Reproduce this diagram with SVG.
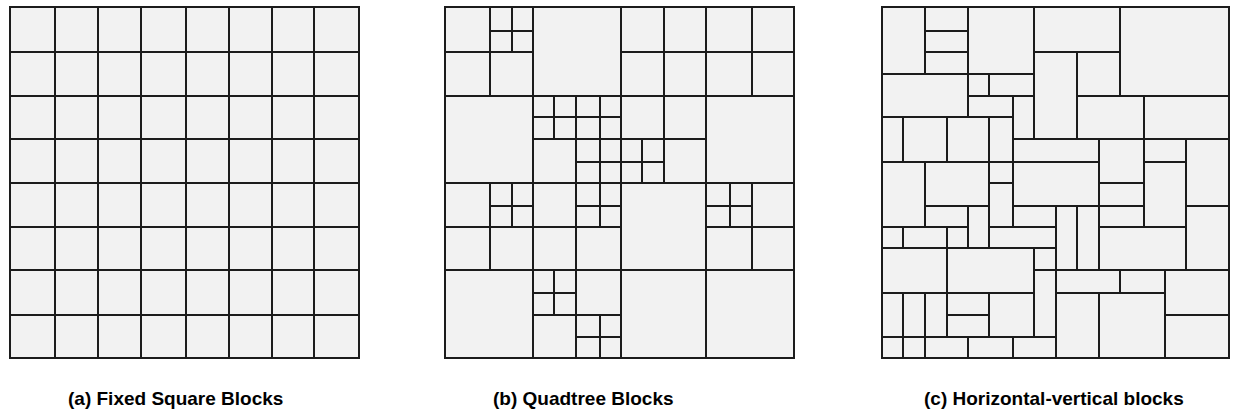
<svg xmlns="http://www.w3.org/2000/svg" width="1238" height="415" viewBox="0 0 1238 415">
<style>
rect{fill:#f2f2f2;stroke:#1c1c1c;stroke-width:2}
path{fill:none;stroke:#1c1c1c;stroke-width:2}
text{font-family:"Liberation Sans",Arial,sans-serif;font-weight:bold;font-size:19px;fill:#000}
</style>
<rect x="0" y="0" width="1238" height="415" style="fill:#fff;stroke:none"/>
<g id="panel-a">
<rect x="10" y="7" width="349" height="351"/>
<path d="M55 7V358M98 7V358M141 7V358M186 7V358M229 7V358M272 7V358M314 7V358M10 52H359M10 96H359M10 139H359M10 183H359M10 227H359M10 270H359M10 315H359"/>
</g>
<g id="panel-b">
<rect x="445" y="7" width="45" height="45"/>
<rect x="490" y="7" width="43" height="45"/>
<rect x="445" y="52" width="45" height="44"/>
<rect x="490" y="52" width="43" height="44"/>
<rect x="533" y="7" width="88" height="89"/>
<rect x="621" y="7" width="43" height="45"/>
<rect x="664" y="7" width="42" height="45"/>
<rect x="706" y="7" width="46" height="45"/>
<rect x="752" y="7" width="42" height="45"/>
<rect x="621" y="52" width="43" height="44"/>
<rect x="664" y="52" width="42" height="44"/>
<rect x="706" y="52" width="46" height="44"/>
<rect x="752" y="52" width="42" height="44"/>
<rect x="445" y="96" width="88" height="87"/>
<rect x="533" y="96" width="43" height="43"/>
<rect x="576" y="96" width="45" height="43"/>
<rect x="533" y="139" width="43" height="44"/>
<rect x="576" y="139" width="45" height="44"/>
<rect x="621" y="96" width="43" height="43"/>
<rect x="664" y="96" width="42" height="43"/>
<rect x="621" y="139" width="43" height="44"/>
<rect x="664" y="139" width="42" height="44"/>
<rect x="706" y="96" width="88" height="87"/>
<rect x="445" y="183" width="45" height="44"/>
<rect x="490" y="183" width="43" height="44"/>
<rect x="445" y="227" width="45" height="43"/>
<rect x="490" y="227" width="43" height="43"/>
<rect x="533" y="183" width="43" height="44"/>
<rect x="576" y="183" width="45" height="44"/>
<rect x="533" y="227" width="43" height="43"/>
<rect x="576" y="227" width="45" height="43"/>
<rect x="621" y="183" width="85" height="87"/>
<rect x="706" y="183" width="46" height="44"/>
<rect x="752" y="183" width="42" height="44"/>
<rect x="706" y="227" width="46" height="43"/>
<rect x="752" y="227" width="42" height="43"/>
<rect x="445" y="270" width="88" height="88"/>
<rect x="533" y="270" width="43" height="45"/>
<rect x="576" y="270" width="45" height="45"/>
<rect x="533" y="315" width="43" height="43"/>
<rect x="576" y="315" width="45" height="43"/>
<rect x="621" y="270" width="85" height="88"/>
<rect x="706" y="270" width="88" height="88"/>
<path d="M512 7V52M490 31H533M554 96V139M533 117H576M600 96V139M576 117H621M600 139V183M576 162H621M642 139V183M621 162H664M512 183V227M490 206H533M600 183V227M576 206H621M730 183V227M706 206H752M554 270V315M533 293H576M600 315V358M576 337H621"/>
</g>
<g id="panel-c">
<rect x="882" y="7" width="43" height="67"/>
<rect x="925" y="7" width="43" height="24"/>
<rect x="925" y="31" width="43" height="21"/>
<rect x="925" y="52" width="43" height="22"/>
<rect x="968" y="7" width="66" height="67"/>
<rect x="1034" y="7" width="86" height="45"/>
<rect x="1120" y="7" width="109" height="89"/>
<rect x="1034" y="52" width="43" height="87"/>
<rect x="1077" y="52" width="43" height="44"/>
<rect x="882" y="74" width="86" height="43"/>
<rect x="968" y="74" width="21" height="22"/>
<rect x="989" y="74" width="45" height="22"/>
<rect x="968" y="96" width="45" height="21"/>
<rect x="1013" y="96" width="21" height="43"/>
<rect x="1077" y="96" width="67" height="43"/>
<rect x="1144" y="96" width="85" height="43"/>
<rect x="882" y="117" width="21" height="45"/>
<rect x="903" y="117" width="44" height="45"/>
<rect x="947" y="117" width="42" height="45"/>
<rect x="989" y="117" width="24" height="45"/>
<rect x="1013" y="139" width="86" height="23"/>
<rect x="1099" y="139" width="45" height="44"/>
<rect x="1144" y="139" width="42" height="23"/>
<rect x="1186" y="139" width="43" height="67"/>
<rect x="882" y="162" width="43" height="65"/>
<rect x="925" y="162" width="64" height="44"/>
<rect x="989" y="162" width="24" height="21"/>
<rect x="1013" y="162" width="86" height="44"/>
<rect x="1144" y="162" width="42" height="65"/>
<rect x="1099" y="183" width="45" height="23"/>
<rect x="989" y="183" width="24" height="44"/>
<rect x="925" y="206" width="43" height="21"/>
<rect x="968" y="206" width="21" height="42"/>
<rect x="1013" y="206" width="43" height="21"/>
<rect x="1056" y="206" width="21" height="64"/>
<rect x="1077" y="206" width="22" height="64"/>
<rect x="1099" y="206" width="45" height="21"/>
<rect x="1186" y="206" width="43" height="64"/>
<rect x="882" y="227" width="21" height="21"/>
<rect x="903" y="227" width="44" height="21"/>
<rect x="947" y="227" width="21" height="21"/>
<rect x="989" y="227" width="67" height="21"/>
<rect x="1099" y="227" width="87" height="43"/>
<rect x="882" y="248" width="65" height="45"/>
<rect x="947" y="248" width="87" height="45"/>
<rect x="1034" y="248" width="22" height="22"/>
<rect x="1034" y="270" width="22" height="67"/>
<rect x="1056" y="270" width="64" height="23"/>
<rect x="1120" y="270" width="45" height="23"/>
<rect x="1165" y="270" width="64" height="45"/>
<rect x="882" y="293" width="21" height="44"/>
<rect x="903" y="293" width="22" height="44"/>
<rect x="925" y="293" width="22" height="44"/>
<rect x="947" y="293" width="42" height="22"/>
<rect x="947" y="315" width="42" height="22"/>
<rect x="989" y="293" width="45" height="44"/>
<rect x="1056" y="293" width="43" height="65"/>
<rect x="1099" y="293" width="66" height="65"/>
<rect x="1165" y="315" width="64" height="43"/>
<rect x="882" y="337" width="21" height="21"/>
<rect x="903" y="337" width="22" height="21"/>
<rect x="925" y="337" width="43" height="21"/>
<rect x="968" y="337" width="45" height="21"/>
<rect x="1013" y="337" width="43" height="21"/>
</g>
<g id="labels">
<text x="68" y="405">(a) Fixed Square Blocks</text>
<text x="493" y="405">(b) Quadtree Blocks</text>
<text x="924" y="405">(c) Horizontal-vertical blocks</text>
</g>
</svg>
